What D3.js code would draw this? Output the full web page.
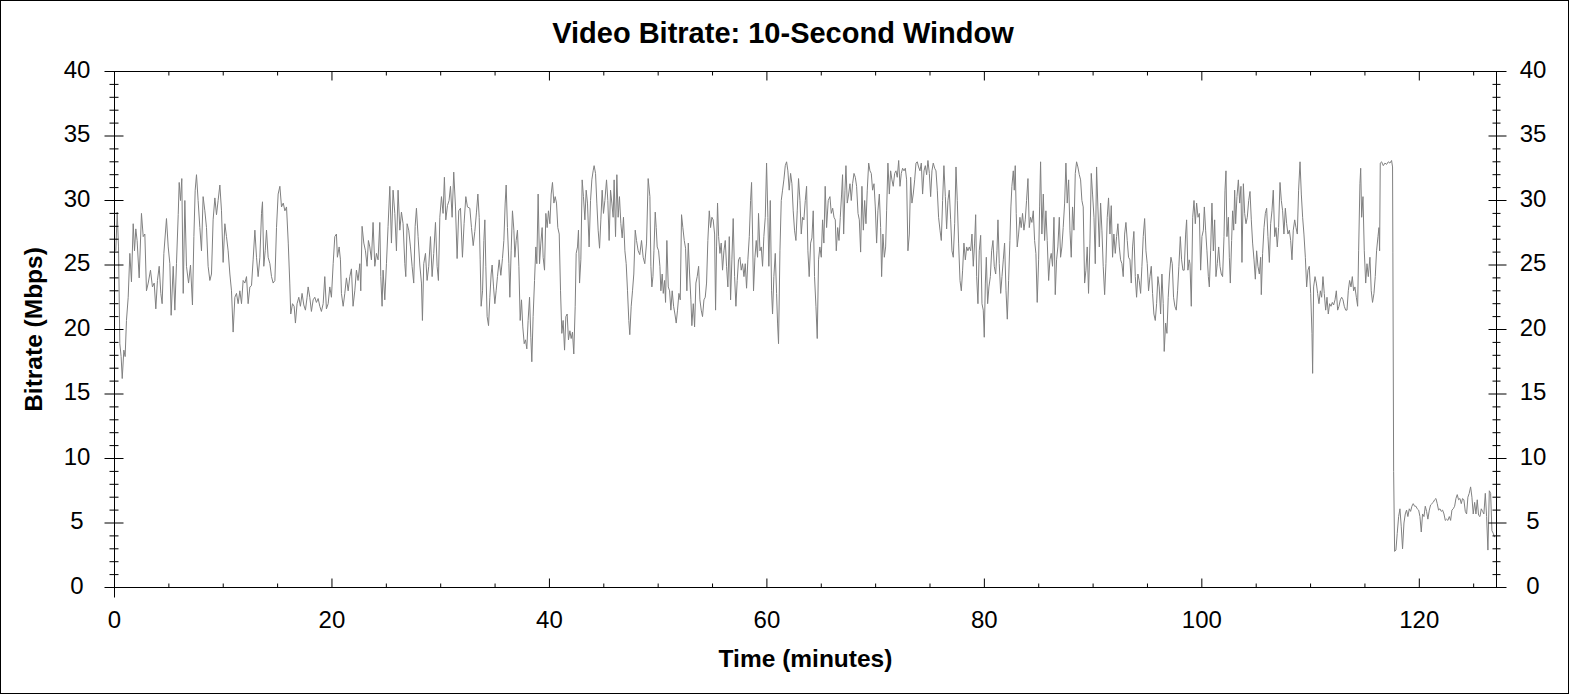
<!DOCTYPE html>
<html>
  <head>
    <meta charset="UTF-8">
    <title>Video Bitrate: 10-Second Window</title>
    <script src="https://cdn.jsdelivr.net/npm/d3@7"></script>
    <style>
      body { margin: 0; background: #fff; }
      svg text { font-family: "Liberation Sans", Arial, sans-serif; fill: #000; }
    </style>
  </head>
  <body>
    <script>
      // ---- data: time (minutes) and 10-second window bitrate (Mbps) in slices ----
      var minutes1 = [0.12,0.25,0.37,0.49,0.61,0.71,0.86,0.98,1.10,1.26,
        1.41,1.56,1.72,1.84,1.96,2.08,2.27,2.48,2.64,2.79,
        2.94,3.10,3.31,3.49,3.65,3.80,3.95,4.11,4.26,4.38,
        4.54,4.78,4.94,5.09,5.21,5.40,5.55,5.70,5.86,5.95,
        6.07,6.19,6.32,6.47,6.62,6.81,6.99,7.17,7.30,7.42,
        7.54,7.69,7.85,8.00,8.15,8.31,8.46,8.61,8.77,8.92,
        9.07,9.23,9.38,9.53,9.69,9.84,9.99,10.15,10.30,10.45,
        10.61,10.76,10.91,11.07,11.22,11.37,11.53,11.68,11.83,11.99,
        12.14,12.29,12.45,12.60,12.75,12.91,13.06,13.21,13.37,13.52,
        13.61,13.73,13.86,13.98,14.13,14.29,14.44,14.59,14.75,14.90,
        15.05,15.21,15.36,15.52,15.67,15.82,15.98];
      var mbps1 = [26.1,29.1,26.4,18.9,17.9,16.2,18.4,17.9,20.7,22.5,
        25.9,23.7,28.2,26.1,27.8,26.9,24.0,29.0,27.2,27.4,
        23.0,23.6,24.6,23.3,23.6,21.6,23.8,24.9,22.8,22.0,
        25.9,28.6,26.4,25.1,21.1,24.9,21.5,25.1,28.9,31.4,
        30.0,31.7,22.8,30.0,24.9,23.6,25.0,21.9,27.2,30.8,
        32.0,30.0,27.9,26.1,30.3,29.2,27.9,24.9,23.8,24.3,
        28.5,30.2,28.9,30.0,31.2,29.2,25.2,28.2,27.2,26.1,
        24.3,23.0,19.8,22.5,22.8,22.0,23.0,22.0,23.8,23.6,
        24.1,22.0,23.3,23.4,25.4,27.7,25.6,24.1,25.6,29.0,
        29.9,24.9,26.1,27.7,25.6,25.1,24.1,23.6,23.8,27.9,
        30.5,31.1,29.5,29.8,29.2,29.5,26.7];

      var minutes2 = [16.12,16.21,16.37,16.52,16.64,16.79,16.95,17.10,17.25,17.41,
        17.56,17.71,17.81,17.96,18.11,18.27,18.42,18.57,18.73,18.88,
        19.03,19.19,19.34,19.49,19.65,19.80,19.95,20.11,20.26,20.41,
        20.50,20.66,20.78,20.87,21.03,21.18,21.33,21.49,21.64,21.79,
        21.94,22.10,22.25,22.40,22.56,22.65,22.77,22.93,23.08,23.23,
        23.35,23.48,23.63,23.78,23.94,24.09,24.24,24.40,24.49,24.61,
        24.70,24.86,25.01,25.16,25.32,25.47,25.62,25.78,25.93,26.08,
        26.24,26.39,26.54,26.70,26.79,26.91,27.06,27.22,27.37,27.52,
        27.65,27.77,27.92,28.08,28.23,28.32,28.44,28.60,28.75,28.90,
        29.06,29.21,29.36,29.52,29.67,29.79,29.92,30.07,30.22,30.34,
        30.47,30.62,30.77,30.90,31.05,31.20,31.36,31.51,31.66,31.82,
        32.00,32.15,32.31,32.46];
      var mbps2 = [23.6,21.2,22.0,21.8,20.5,22.0,22.5,21.8,22.8,21.9,
        21.5,22.5,23.3,22.5,21.4,22.3,22.5,22.1,22.4,21.8,
        21.4,22.0,24.1,21.6,22.0,23.3,22.5,25.1,27.2,27.4,
        25.6,26.4,25.4,22.8,21.8,22.8,24.0,23.0,24.1,24.7,
        21.8,23.0,24.6,23.8,25.1,23.0,28.0,26.7,26.1,24.9,
        26.9,26.4,25.4,28.3,24.9,25.9,25.4,28.3,24.1,21.8,
        24.6,22.3,25.1,28.0,31.1,26.7,30.8,29.0,26.1,30.8,
        27.7,29.1,28.2,25.1,24.1,28.2,27.7,26.4,24.9,23.6,
        28.0,29.4,27.2,25.0,23.6,20.7,25.1,25.9,23.8,24.9,
        27.2,24.1,25.9,28.3,24.9,23.8,28.7,30.3,29.0,31.8,
        28.5,29.6,30.0,31.1,28.7,32.2,29.5,25.5,29.2,29.4,
        25.6,28.2,30.3,29.5];

      var minutes3 = [32.68,32.83,32.99,33.14,33.29,33.42,33.54,33.63,33.72,33.85,
        33.97,34.06,34.15,34.27,34.40,34.52,34.64,34.73,34.86,34.98,
        35.10,35.22,35.38,35.53,35.68,35.81,35.93,36.02,36.14,36.27,
        36.36,36.48,36.60,36.73,36.82,36.94,37.06,37.19,37.31,37.43,
        37.55,37.68,37.80,37.92,38.04,38.17,38.29,38.38,38.50,38.63,
        38.75,38.84,38.96,39.09,39.21,39.33,39.42,39.55,39.67,39.79,
        39.91,40.04,40.16,40.28,40.41,40.53,40.65,40.77,40.90,41.02,
        41.14,41.26,41.39,41.51,41.63,41.75,41.88,42.00,42.12,42.24,
        42.37,42.46,42.58,42.67,42.77,42.89,43.01,43.13,43.26,43.38,
        43.50,43.65,43.78,43.90,44.02,44.11,44.24,44.36,44.48,44.61,
        44.73,44.85,44.97,45.10,45.25,45.37,45.49,45.62,45.74,45.86,
        45.95,46.08,46.20,46.32,46.44,46.57,46.69,46.81,46.94,47.06,
        47.18,47.30,47.39,47.52,47.64,47.76,47.89,48.01,48.16,48.31,
        48.47,48.62,48.77,48.93,49.08];
      var mbps3 = [29.4,27.9,26.5,27.6,29.1,30.5,28.7,25.4,21.8,23.0,
        26.9,28.5,24.9,21.0,20.3,22.5,24.3,25.0,23.3,22.0,
        23.0,24.1,25.4,24.2,25.5,26.9,29.8,31.2,27.9,25.1,
        22.5,26.1,29.2,27.7,25.6,26.9,27.7,24.9,20.7,22.3,
        20.2,18.9,19.2,18.5,20.7,22.5,19.4,17.5,21.0,23.8,
        26.4,25.1,30.5,25.1,26.7,27.9,25.6,24.6,29.0,27.9,
        29.2,28.2,30.5,31.4,29.8,30.3,29.8,27.9,27.4,23.0,
        19.7,20.7,18.4,21.0,21.2,19.2,19.9,19.3,19.8,18.1,
        21.8,25.9,26.4,27.7,23.6,25.4,31.6,30.3,28.5,30.8,
        29.8,26.4,30.0,31.6,32.3,32.7,32.1,29.8,27.7,26.3,
        28.5,30.8,29.0,30.0,31.6,30.0,26.9,30.8,29.8,28.7,
        31.6,27.2,32.0,28.7,30.3,28.2,27.1,28.7,26.1,25.1,
        23.0,20.7,19.6,21.8,23.0,24.3,27.7,26.9,26.1,25.8,
        26.9,25.6,25.1,26.7,31.7];

      var minutes4 = [49.24,49.33,49.42,49.52,49.61,49.73,49.82,49.91,50.04,50.16,
        50.25,50.37,50.47,50.59,50.68,50.80,50.93,51.05,51.17,51.29,
        51.42,51.54,51.66,51.78,51.91,52.03,52.15,52.27,52.40,52.52,
        52.64,52.77,52.89,53.01,53.10,53.23,53.35,53.47,53.59,53.72,
        53.84,53.96,54.08,54.21,54.33,54.45,54.57,54.70,54.82,54.94,
        55.06,55.19,55.28,55.37,55.46,55.56,55.68,55.80,55.92,56.05,
        56.17,56.29,56.41,56.54,56.66,56.78,56.90,57.03,57.15,57.27,
        57.39,57.52,57.64,57.76,57.89,58.01,58.13,58.25,58.38,58.50,
        58.59,58.68,58.77,58.90,59.02,59.14,59.23,59.36,59.48,59.60,
        59.72,59.85,59.97,60.09,60.18,60.31,60.43,60.52,60.64,60.77,
        60.89,60.98,61.07,61.20,61.32,61.44,61.56,61.69,61.81,61.93,
        62.05,62.18,62.30,62.42,62.54,62.67,62.79,62.91,63.04,63.16,
        63.28,63.40,63.53,63.65,63.77,63.89,64.02,64.14,64.26,64.38,
        64.51,64.63,64.75,64.87,65.00,65.12,65.24,65.36,65.49,65.64];
      var mbps4 = [30.3,24.9,23.3,24.1,26.1,29.1,27.9,26.4,26.1,24.9,
        23.0,24.3,22.8,23.8,22.1,26.9,23.3,23.0,21.5,23.0,
        21.8,21.2,20.5,21.5,22.8,22.3,28.9,27.9,26.9,26.3,
        23.0,26.7,24.3,22.3,20.3,22.0,20.2,23.6,24.1,24.9,
        22.3,21.5,21.0,22.3,22.5,23.6,26.9,29.2,27.9,28.7,
        28.5,27.4,21.5,26.4,29.8,27.2,25.9,26.7,24.6,26.1,
        26.9,24.9,23.3,27.2,22.3,25.4,28.6,24.1,21.8,23.8,
        25.4,25.6,24.6,25.1,24.1,25.1,23.2,25.4,27.2,30.0,
        31.4,27.4,23.0,25.6,26.9,25.6,29.0,26.1,26.4,24.9,
        27.2,28.7,32.9,28.7,24.9,30.0,23.0,21.2,24.1,25.9,
        22.8,20.5,18.9,26.1,30.0,30.8,31.6,32.7,33.0,32.3,
        30.8,32.1,31.3,29.2,27.7,26.9,29.2,31.7,30.0,27.4,
        28.7,28.5,30.0,31.1,26.1,24.1,26.7,27.1,29.2,24.1,
        21.8,19.3,25.4,26.4,25.6,28.5,26.7,31.1,27.9,30.0];

      var minutes5 = [65.80,65.92,66.05,66.17,66.29,66.38,66.51,66.63,66.75,66.87,
        66.96,67.06,67.18,67.27,67.39,67.52,67.64,67.76,67.88,68.01,
        68.13,68.25,68.38,68.50,68.62,68.74,68.87,68.99,69.11,69.23,
        69.36,69.48,69.60,69.72,69.85,69.97,70.09,70.21,70.34,70.46,
        70.55,70.67,70.80,70.92,71.01,71.13,71.26,71.38,71.50,71.62,
        71.75,71.87,71.99,72.12,72.24,72.36,72.48,72.61,72.73,72.85,
        72.97,73.10,73.22,73.34,73.46,73.59,73.71,73.83,73.95,74.08,
        74.20,74.32,74.45,74.57,74.69,74.81,74.94,75.06,75.18,75.30,
        75.43,75.55,75.67,75.79,75.92,76.04,76.16,76.28,76.41,76.53,
        76.65,76.77,76.90,77.02,77.14,77.27,77.39,77.51,77.63,77.76,
        77.88,78.00,78.12,78.25,78.37,78.49,78.61,78.74,78.86,78.98,
        79.10,79.20,79.29,79.41,79.53,79.66,79.78,79.90,79.99,80.09,
        80.18,80.30,80.42,80.55,80.67,80.79,80.91,81.04,81.16,81.25,
        81.37,81.50,81.62,81.74,81.86,81.99,82.11,82.23];
      var mbps5 = [30.3,29.0,29.4,28.7,28.5,26.1,27.9,26.9,28.7,30.5,
        32.0,27.4,30.8,32.7,29.8,30.5,31.3,30.0,31.3,32.1,
        31.8,31.1,29.0,28.5,26.0,31.1,27.7,30.0,28.2,30.8,
        32.9,32.3,32.1,30.8,31.3,29.5,26.7,29.2,30.5,27.9,
        24.1,27.4,25.6,26.4,29.2,32.9,30.5,32.3,31.6,31.1,
        32.1,32.3,31.8,33.1,31.1,32.1,32.5,32.3,32.5,31.6,
        26.1,27.4,31.8,29.8,30.5,31.6,32.9,33.0,32.6,32.3,
        32.9,30.5,32.3,32.7,32.0,33.1,32.1,30.3,32.3,32.9,
        32.5,32.3,30.8,28.7,27.7,26.9,30.0,32.7,30.3,27.8,
        30.0,30.8,28.5,26.1,25.6,28.2,32.6,30.0,26.7,23.8,
        23.0,24.6,26.7,25.4,26.4,26.1,26.4,26.1,27.4,24.9,
        26.7,28.9,24.1,22.0,26.1,27.3,22.0,21.5,19.4,23.6,
        25.6,22.0,23.3,24.1,26.1,26.9,24.9,24.3,26.1,28.5,
        25.1,22.8,24.1,25.4,26.7,23.0,20.8,23.8];

      var minutes6 = [82.35,82.44,82.53,82.66,82.75,82.84,82.93,83.02,83.15,83.27,
        83.39,83.51,83.64,83.76,83.88,84.01,84.13,84.25,84.37,84.50,
        84.62,84.74,84.86,84.99,85.08,85.17,85.29,85.42,85.54,85.66,
        85.78,85.91,86.03,86.15,86.27,86.40,86.52,86.64,86.76,86.89,
        87.01,87.13,87.25,87.38,87.50,87.62,87.75,87.87,87.99,88.11,
        88.24,88.36,88.48,88.60,88.73,88.85,88.97,89.09,89.22,89.34,
        89.46,89.58,89.71,89.83,89.95,90.08,90.20,90.32,90.44,90.57,
        90.69,90.81,90.93,91.06,91.18,91.30,91.42,91.55,91.67,91.79,
        91.91,92.04,92.16,92.28,92.41,92.53,92.65,92.77,92.90,93.02,
        93.14,93.26,93.39,93.51,93.63,93.75,93.88,94.00,94.12,94.24,
        94.37,94.49,94.61,94.74,94.86,94.98,95.10,95.23,95.35,95.47,
        95.59,95.72,95.84,95.96,96.08,96.21,96.33,96.45,96.54,96.67,
        96.79,96.91,97.03,97.16,97.28,97.40,97.52,97.65,97.77,97.89,
        98.02,98.14,98.26,98.38,98.51,98.60,98.72,98.84];
      var mbps6 = [26.9,29.5,31.1,32.3,30.8,32.7,29.0,26.4,27.4,28.7,
        27.9,29.0,27.7,28.5,30.0,31.7,27.9,28.7,28.3,29.2,
        26.9,25.9,22.1,25.4,29.5,33.0,27.4,30.5,26.9,29.2,
        26.9,23.8,25.4,25.9,24.9,28.7,22.7,25.4,26.4,28.7,
        25.6,26.4,27.9,29.8,32.9,29.8,31.6,27.7,25.6,29.5,
        27.7,32.1,33.0,32.6,32.0,31.6,30.0,29.5,23.6,24.6,
        26.4,22.8,26.7,32.1,30.5,28.7,25.1,32.6,29.5,26.4,
        29.8,27.7,24.9,22.7,25.1,28.7,30.2,27.4,29.6,25.6,
        27.4,25.9,27.2,28.2,26.4,25.4,25.1,24.1,27.4,28.3,
        26.9,25.6,25.4,23.6,26.4,27.6,24.1,22.5,24.3,23.8,
        22.8,24.9,27.2,28.6,26.1,25.1,23.0,24.1,24.9,22.8,
        21.2,20.7,22.0,24.1,23.3,21.2,24.3,22.0,18.3,20.5,
        19.7,22.5,24.3,25.6,25.1,22.5,21.8,21.5,23.0,24.9,
        27.2,25.4,24.6,24.6,27.4,28.5,24.6,25.4];

      var minutes7 = [98.91,99.03,99.16,99.28,99.40,99.52,99.65,99.77,99.89,100.01,
        100.14,100.23,100.35,100.47,100.60,100.69,100.81,100.93,101.06,101.18,
        101.30,101.42,101.55,101.67,101.79,101.91,102.04,102.13,102.22,102.31,
        102.44,102.53,102.62,102.74,102.83,102.93,103.02,103.11,103.23,103.36,
        103.48,103.60,103.69,103.82,103.94,104.06,104.18,104.31,104.43,104.55,
        104.67,104.80,104.92,105.04,105.16,105.29,105.41,105.47,105.59,105.72,
        105.84,105.96,106.08,106.21,106.33,106.45,106.57,106.70,106.82,106.94,
        107.06,107.19,107.31,107.43,107.55,107.68,107.80,107.92,108.05,108.17,
        108.29,108.41,108.54,108.66,108.78,108.90,109.03,109.15,109.27,109.39,
        109.52,109.64,109.76,109.88,110.01,110.13,110.19,110.28,110.41,110.53,
        110.65,110.77,110.90,111.02,111.14,111.26,111.39,111.51,111.63,111.75,
        111.88,112.00,112.12,112.25,112.37,112.49,112.61,112.74,112.86,112.98,
        113.10,113.23,113.35,113.47,113.59,113.72,113.84,113.96,114.08,114.21,
        114.33,114.42,114.54,114.61,114.70,114.82,114.94,115.07,115.19,115.31,115.46];
      var mbps7 = [25.1,21.8,28.7,30.0,28.2,29.8,28.7,29.0,24.6,27.2,
        27.7,29.5,27.7,26.1,24.1,23.3,26.1,29.8,26.1,28.5,
        24.1,25.1,26.4,24.9,24.3,24.1,27.2,30.8,32.3,27.2,
        28.7,25.6,23.6,26.9,29.2,27.7,30.8,28.2,30.3,31.6,
        29.8,31.1,25.2,31.3,29.0,28.2,28.7,30.0,30.7,28.5,
        26.7,25.4,23.9,26.1,24.9,24.3,25.6,22.7,25.9,27.9,
        29.0,29.4,27.2,25.2,28.2,29.2,30.8,27.2,27.9,26.4,
        27.9,31.4,30.0,29.2,27.4,29.4,28.2,27.4,27.7,26.9,
        25.4,27.7,28.5,27.9,27.4,30.8,33.0,30.5,28.7,27.4,
        25.6,23.3,24.6,24.9,22.8,19.7,16.6,23.3,24.1,23.6,
        22.8,22.0,23.0,22.5,24.1,22.8,21.5,22.5,21.2,22.0,
        21.8,22.1,21.9,22.3,23.0,21.5,21.8,22.3,22.5,22.3,
        21.8,21.5,21.5,23.0,23.8,23.3,24.1,23.0,23.3,22.5,
        21.8,26.1,31.3,32.5,28.7,30.3,26.1,23.6,25.1,24.1,25.6];

      var minutes8 = [115.58,115.70,115.83,115.95,116.07,116.20,116.29,116.35,116.41,116.53,
        116.69,116.84,116.99,117.15,117.30,117.45,117.54,117.57,117.64,117.73,
        117.85,117.97,118.10,118.22,118.34,118.46,118.59,118.71,118.83,118.95,
        119.08,119.20,119.32,119.44,119.57,119.69,119.81,119.94,120.06,120.18,
        120.30,120.43,120.55,120.67,120.79,120.92,121.04,121.16,121.28,121.41,
        121.53,121.65,121.77,121.90,122.02,122.14,122.27,122.39,122.51,122.63,
        122.76,122.88,123.00,123.12,123.25,123.37,123.49,123.61,123.74,123.86,
        123.98,124.10,124.23,124.35,124.47,124.59,124.72,124.84,124.96,125.09,
        125.21,125.33,125.45,125.58,125.70,125.82,125.94,126.07,126.19,126.31,
        126.44,126.56,126.68,126.80,126.93];
      var mbps8 = [23.0,22.1,22.8,24.1,26.1,27.2,27.9,26.1,32.9,33.0,
        32.7,32.9,32.8,33.0,32.9,33.1,32.6,26.0,9.0,2.8,
        2.9,4.2,5.5,6.1,4.7,3.0,5.0,5.7,6.0,5.5,
        6.1,5.9,6.3,6.5,6.3,6.3,6.1,6.0,5.5,4.3,
        5.7,5.5,6.3,5.9,5.3,6.0,6.4,6.5,6.6,6.8,
        6.9,6.5,6.0,6.1,5.9,6.0,5.7,5.2,5.3,5.2,
        5.5,5.2,6.0,6.1,6.3,6.9,7.2,6.8,6.9,6.5,
        6.9,6.8,5.9,5.7,7.0,7.3,7.8,7.0,5.7,6.6,
        5.7,6.8,5.6,5.5,6.1,5.9,5.7,7.3,5.5,2.9,
        7.5,7.3,4.4,4.2,3.9];

      // axis ticks and labels
      var xTicks = [0, 20, 40, 60, 80, 100, 120];
      var yTicks = [0, 5, 10, 15, 20, 25, 30, 35, 40];
      var xMax = 127.1, yMax = 40;

      var minutes = [].concat(minutes1, minutes2, minutes3, minutes4, minutes5, minutes6, minutes7, minutes8);
      var mbps = [].concat(mbps1, mbps2, mbps3, mbps4, mbps5, mbps6, mbps7, mbps8);
      var points = minutes.map(function (m, i) { return [m, mbps[i]]; });

      // ---- layout ----
      var W = 1570, H = 695;
      var plotL = 114.5, plotR = 1496.5, plotT = 71.5, plotB = 587.5;

      var svg = d3.select("body").append("svg")
        .attr("width", W)
        .attr("height", H);

      // outer frame
      svg.append("rect")
        .attr("x", 0.5).attr("y", 0.5)
        .attr("width", W - 2).attr("height", H - 2)
        .attr("fill", "#fff")
        .attr("stroke", "#000");

      var x = d3.scaleLinear().domain([0, xMax]).range([plotL, plotR]);
      var y = d3.scaleLinear().domain([0, yMax]).range([plotB, plotT]);

      var xMinor = d3.range(5, xMax, 5).filter(function (v) { return v % 20 !== 0; });
      var yMinor = d3.range(1, yMax, 1).filter(function (v) { return v % 5 !== 0; });

      // plot the series under the axes
      svg.append("defs").append("clipPath").attr("id", "plot")
        .append("rect")
        .attr("x", plotL).attr("y", plotT)
        .attr("width", plotR - plotL).attr("height", plotB - plotT);

      svg.append("path")
        .datum(points)
        .attr("clip-path", "url(#plot)")
        .attr("fill", "none")
        .attr("stroke", "#808080")
        .attr("stroke-width", 1)
        .attr("stroke-linejoin", "round")
        .attr("d", d3.line()
          .x(function (d) { return x(d[0]); })
          .y(function (d) { return y(d[1]); }));

      // plot area border
      svg.append("rect")
        .attr("x", plotL).attr("y", plotT)
        .attr("width", plotR - plotL).attr("height", plotB - plotT)
        .attr("fill", "none")
        .attr("stroke", "#000");

      // tick helper: draws tick marks only, no domain line, no labels
      function tickMarks(axisFn, scale, values, size, tx, ty) {
        svg.append("g")
          .attr("transform", "translate(" + tx + "," + ty + ")")
          .call(axisFn(scale).tickValues(values).tickSize(size).tickSizeOuter(0)
            .tickFormat("").offset(0))
          .call(function (g) { g.select(".domain").remove(); })
          .selectAll("line").attr("stroke", "#000");
      }

      // left axis (ticks cross the line)
      tickMarks(d3.axisLeft, y, yTicks, 10, plotL, 0);
      tickMarks(d3.axisRight, y, yTicks, 9, plotL, 0);
      tickMarks(d3.axisLeft, y, yMinor, 5, plotL, 0);
      tickMarks(d3.axisRight, y, yMinor, 4, plotL, 0);

      // right axis
      tickMarks(d3.axisRight, y, yTicks, 10, plotR, 0);
      tickMarks(d3.axisLeft, y, yTicks, 8, plotR, 0);
      tickMarks(d3.axisRight, y, yMinor, 4, plotR, 0);
      tickMarks(d3.axisLeft, y, yMinor, 4, plotR, 0);

      // bottom and top axes (ticks inside)
      tickMarks(d3.axisTop, x, xTicks, 9, 0, plotB);
      tickMarks(d3.axisTop, x, xMinor, 4, 0, plotB);
      tickMarks(d3.axisBottom, x, xTicks, 9, 0, plotT);
      tickMarks(d3.axisBottom, x, xMinor, 4, 0, plotT);

      // small extension of the left axis below the origin
      svg.append("line")
        .attr("x1", plotL).attr("x2", plotL)
        .attr("y1", plotB).attr("y2", plotB + 10)
        .attr("stroke", "#000");

      // tick labels
      svg.selectAll(".ylab-left")
        .data(yTicks).enter().append("text")
        .attr("class", "ylab-left")
        .attr("x", 77)
        .attr("y", function (d) { return y(d) + 6; })
        .attr("text-anchor", "middle")
        .style("font-size", "24px")
        .text(function (d) { return d; });

      svg.selectAll(".ylab-right")
        .data(yTicks).enter().append("text")
        .attr("class", "ylab-right")
        .attr("x", 1533)
        .attr("y", function (d) { return y(d) + 6; })
        .attr("text-anchor", "middle")
        .style("font-size", "24px")
        .text(function (d) { return d; });

      svg.selectAll(".xlab")
        .data(xTicks).enter().append("text")
        .attr("class", "xlab")
        .attr("x", function (d) { return x(d); })
        .attr("y", plotB + 40)
        .attr("text-anchor", "middle")
        .style("font-size", "24px")
        .text(function (d) { return d; });

      // titles
      svg.append("text")
        .attr("x", 783).attr("y", 43)
        .attr("text-anchor", "middle")
        .style("font-size", "29px")
        .style("font-weight", "bold")
        .text("Video Bitrate: 10-Second Window");

      svg.append("text")
        .attr("x", (plotL + plotR) / 2).attr("y", 667)
        .attr("text-anchor", "middle")
        .style("font-size", "24.5px")
        .style("font-weight", "bold")
        .text("Time (minutes)");

      svg.append("text")
        .attr("transform", "translate(42," + (plotT + plotB) / 2 + ") rotate(-90)")
        .attr("text-anchor", "middle")
        .style("font-size", "24.5px")
        .style("font-weight", "bold")
        .text("Bitrate (Mbps)");
    </script>
  </body>
</html>
